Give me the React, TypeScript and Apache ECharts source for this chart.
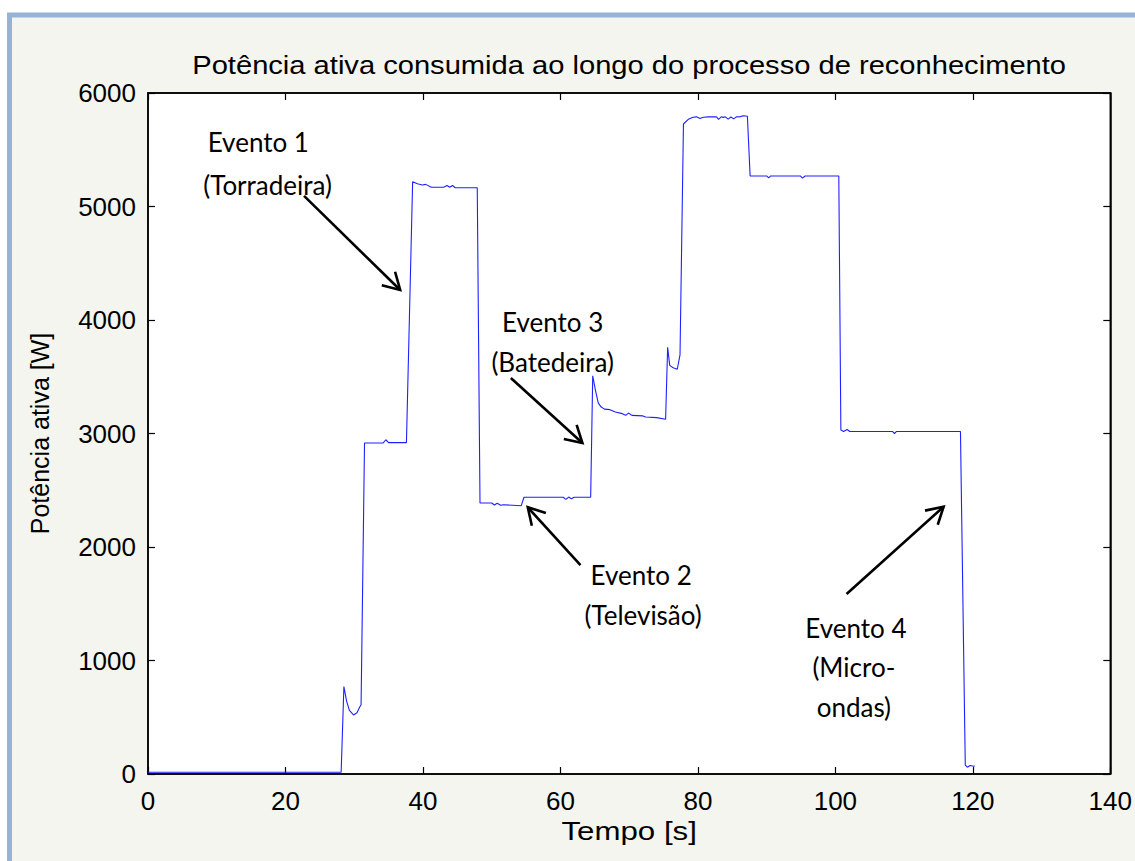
import React, { useEffect, useRef } from 'react';
import * as echarts from 'echarts';

const timeS = [
  0, 28.1, 28.5, 28.9, 29.3, 29.9, 30.4, 30.8, 31.0, 31.5,
  34.2, 34.6, 35.0, 37.6, 38.5, 39.2, 39.9, 40.4, 41.2, 43.0,
  43.5, 43.9, 44.3, 44.7, 47.9, 48.3, 50.0, 50.4, 50.8, 51.3,
  51.7, 54.3, 54.7, 60.4, 60.8, 61.2, 61.6, 62.0, 64.4, 64.7,
  65.1, 65.5, 65.9, 66.4, 67.2, 68.0, 69.0, 69.5, 69.9, 70.4,
  72.0, 72.4, 74.0, 75.3, 75.6, 75.9, 76.4, 77.0, 77.4, 77.9,
  78.6, 79.3, 79.8, 80.3, 80.8, 81.6, 82.7, 83.0, 83.4, 83.7,
  84.0, 84.4, 84.8, 85.2, 85.6, 86.2, 86.6, 87.2, 87.6, 90.0,
  90.3, 90.6, 94.9, 95.2, 95.6, 100.5, 100.8, 101.2, 101.7, 102.1,
  108.3, 108.6, 108.9, 118.2, 118.9, 119.2, 119.6, 120.1, 120.3
];

const powerW = [
  15, 15, 770, 640, 560, 520, 540, 590, 610, 2916,
  2916, 2945, 2920, 2920, 5218, 5200, 5190, 5195, 5170, 5170,
  5185, 5170, 5185, 5165, 5165, 2388, 2388, 2370, 2385, 2368,
  2372, 2364, 2438, 2438, 2420, 2440, 2425, 2438, 2438, 3509,
  3380, 3270, 3235, 3215, 3210, 3190, 3175, 3160, 3180, 3160,
  3155, 3145, 3140, 3125, 3759, 3600, 3580, 3566, 3692, 5727,
  5768, 5786, 5790, 5776, 5786, 5790, 5790, 5768, 5790, 5785,
  5790, 5770, 5788, 5772, 5790, 5792, 5800, 5795, 5269, 5269,
  5252, 5269, 5269, 5250, 5269, 5269, 3031, 3018, 3035, 3018,
  3018, 3000, 3018, 3018, 79, 60, 75, 68, 70
];

const xTicks = [0, 20, 40, 60, 80, 100, 120, 140];
const yTicks = [0, 1000, 2000, 3000, 4000, 5000, 6000];

const titleText = 'Potência ativa consumida ao longo do processo de reconhecimento';
const xName = 'Tempo [s]';
const yName = 'Potência ativa [W]';

// annotation labels: [x (s), y (W), text]
const labelTexts = ['Evento 1', '(Torradeira)', 'Evento 3', '(Batedeira)', 'Evento 2', '(Televisão)', 'Evento 4', '(Micro-', 'ondas)'];
const labelX = [16.05, 17.4, 58.87, 58.87, 71.74, 72.03, 102.98, 102.69, 102.69];
const labelY = [5568, 5189, 3982, 3630, 1753, 1401, 1286, 943, 590];

// arrows: tail -> tip in data coords
const arrowTailX = [22.7, 52.79, 62.92, 101.63];
const arrowTailY = [5093, 3489, 1841, 1586];
const arrowTipX = [36.69, 63.2, 55.25, 115.75];
const arrowTipY = [4264, 2916, 2350, 2355];

export default function App() {
  const ref = useRef<HTMLDivElement>(null);

  useEffect(() => {
    if (!ref.current) return;
    const chart = echarts.init(ref.current, null, { renderer: 'svg' });
    const data = timeS.map((t, i) => [t, powerW[i]]);
    const sans = '"Liberation Sans", Arial, sans-serif';
    const axisFont = { fontFamily: sans, fontSize: 26, color: '#000' };
    const common = {
      z: 3,
      splitLine: { show: false },
      axisLine: { show: true, onZero: false, lineStyle: { color: '#000', width: 1.5 } },
      axisTick: { show: true, inside: true, length: 7, lineStyle: { color: '#000', width: 1.2 } },
    };
    chart.setOption({
      animation: false,
      backgroundColor: '#ffffff',
      grid: {
        left: 148, right: 19, top: 93, bottom: 87,
        show: true, backgroundColor: '#ffffff', borderColor: '#000', borderWidth: 1.5, z: 0,
      },
      xAxis: [
        {
          type: 'value', min: 0, max: 140, interval: 20, position: 'bottom',
          ...common,
          axisLabel: { ...axisFont, margin: 14, formatter: (v: number) => (xTicks.includes(v) ? String(v) : '') },
        },
        {
          type: 'value', min: 0, max: 140, interval: 20, position: 'top',
          ...common, axisLabel: { show: false },
        },
      ],
      yAxis: [
        {
          type: 'value', min: 0, max: 6000, interval: 1000, position: 'left',
          ...common,
          axisLabel: { ...axisFont, margin: 12, formatter: (v: number) => (yTicks.includes(v) ? String(v) : '') },
          name: yName, nameLocation: 'middle', nameGap: 96,
          nameTextStyle: { fontFamily: sans, fontSize: 25, color: '#000' },
        },
        {
          type: 'value', min: 0, max: 6000, interval: 1000, position: 'right',
          ...common, axisLabel: { show: false },
        },
      ],
      series: [
        {
          type: 'line',
          data,
          symbol: 'none',
          lineStyle: { color: '#2020ff', width: 1.1 },
          z: 5,
        },
      ],
    });

    const px = (x: number, y: number) => chart.convertToPixel({ gridIndex: 0 }, [x, y]) as number[];
    const mid = px(70, 0)[0];
    const elements: any[] = [
      {
        type: 'rect',
        z: -100,
        silent: true,
        shape: { x: 9.5, y: 15, width: 1140, height: 860 },
        style: { fill: '#f3f5ee', stroke: '#95b3d7', lineWidth: 5 },
      },
      {
        type: 'text', x: mid, y: 65, scaleX: 1.165, z: 100,
        style: { text: titleText, fill: '#000', font: `25px ${sans}`, textAlign: 'center', textVerticalAlign: 'middle' },
      },
      {
        type: 'text', x: mid, y: 831, scaleX: 1.25, z: 100,
        style: { text: xName, fill: '#000', font: `25px ${sans}`, textAlign: 'center', textVerticalAlign: 'middle' },
      },
    ];
    labelTexts.forEach((t, i) => {
      const p = px(labelX[i], labelY[i]);
      elements.push({
        type: 'text', x: p[0], y: p[1], z: 100,
        style: {
          text: t, fill: '#000', font: '26px Lato, "Open Sans", sans-serif',
          textAlign: 'center', textVerticalAlign: 'middle',
        },
      });
    });
    arrowTailX.forEach((_, i) => {
      const a = px(arrowTailX[i], arrowTailY[i]);
      const b = px(arrowTipX[i], arrowTipY[i]);
      const dx = b[0] - a[0];
      const dy = b[1] - a[1];
      const len = Math.hypot(dx, dy);
      const ux = dx / len;
      const uy = dy / len;
      const hl = 19;
      const ang = (30 * Math.PI) / 180;
      const rot = (s: number) => [
        -(ux * Math.cos(s * ang) - uy * Math.sin(s * ang)) * hl,
        -(ux * Math.sin(s * ang) + uy * Math.cos(s * ang)) * hl,
      ];
      const r1 = rot(1);
      const r2 = rot(-1);
      elements.push({
        type: 'line', z: 100,
        shape: { x1: a[0], y1: a[1], x2: b[0], y2: b[1] },
        style: { stroke: '#000', lineWidth: 2.6 },
      });
      elements.push({
        type: 'polyline', z: 100,
        shape: { points: [[b[0] + r1[0], b[1] + r1[1]], [b[0], b[1]], [b[0] + r2[0], b[1] + r2[1]]] },
        style: { stroke: '#000', lineWidth: 2.6, fill: 'none' },
      });
    });
    chart.setOption({ graphic: { elements } });

    return () => chart.dispose();
  }, []);

  return (
    <div
      ref={ref}
      style={{ position: 'fixed', left: 0, top: 0, width: 1135, height: 861 }}
    />
  );
}
